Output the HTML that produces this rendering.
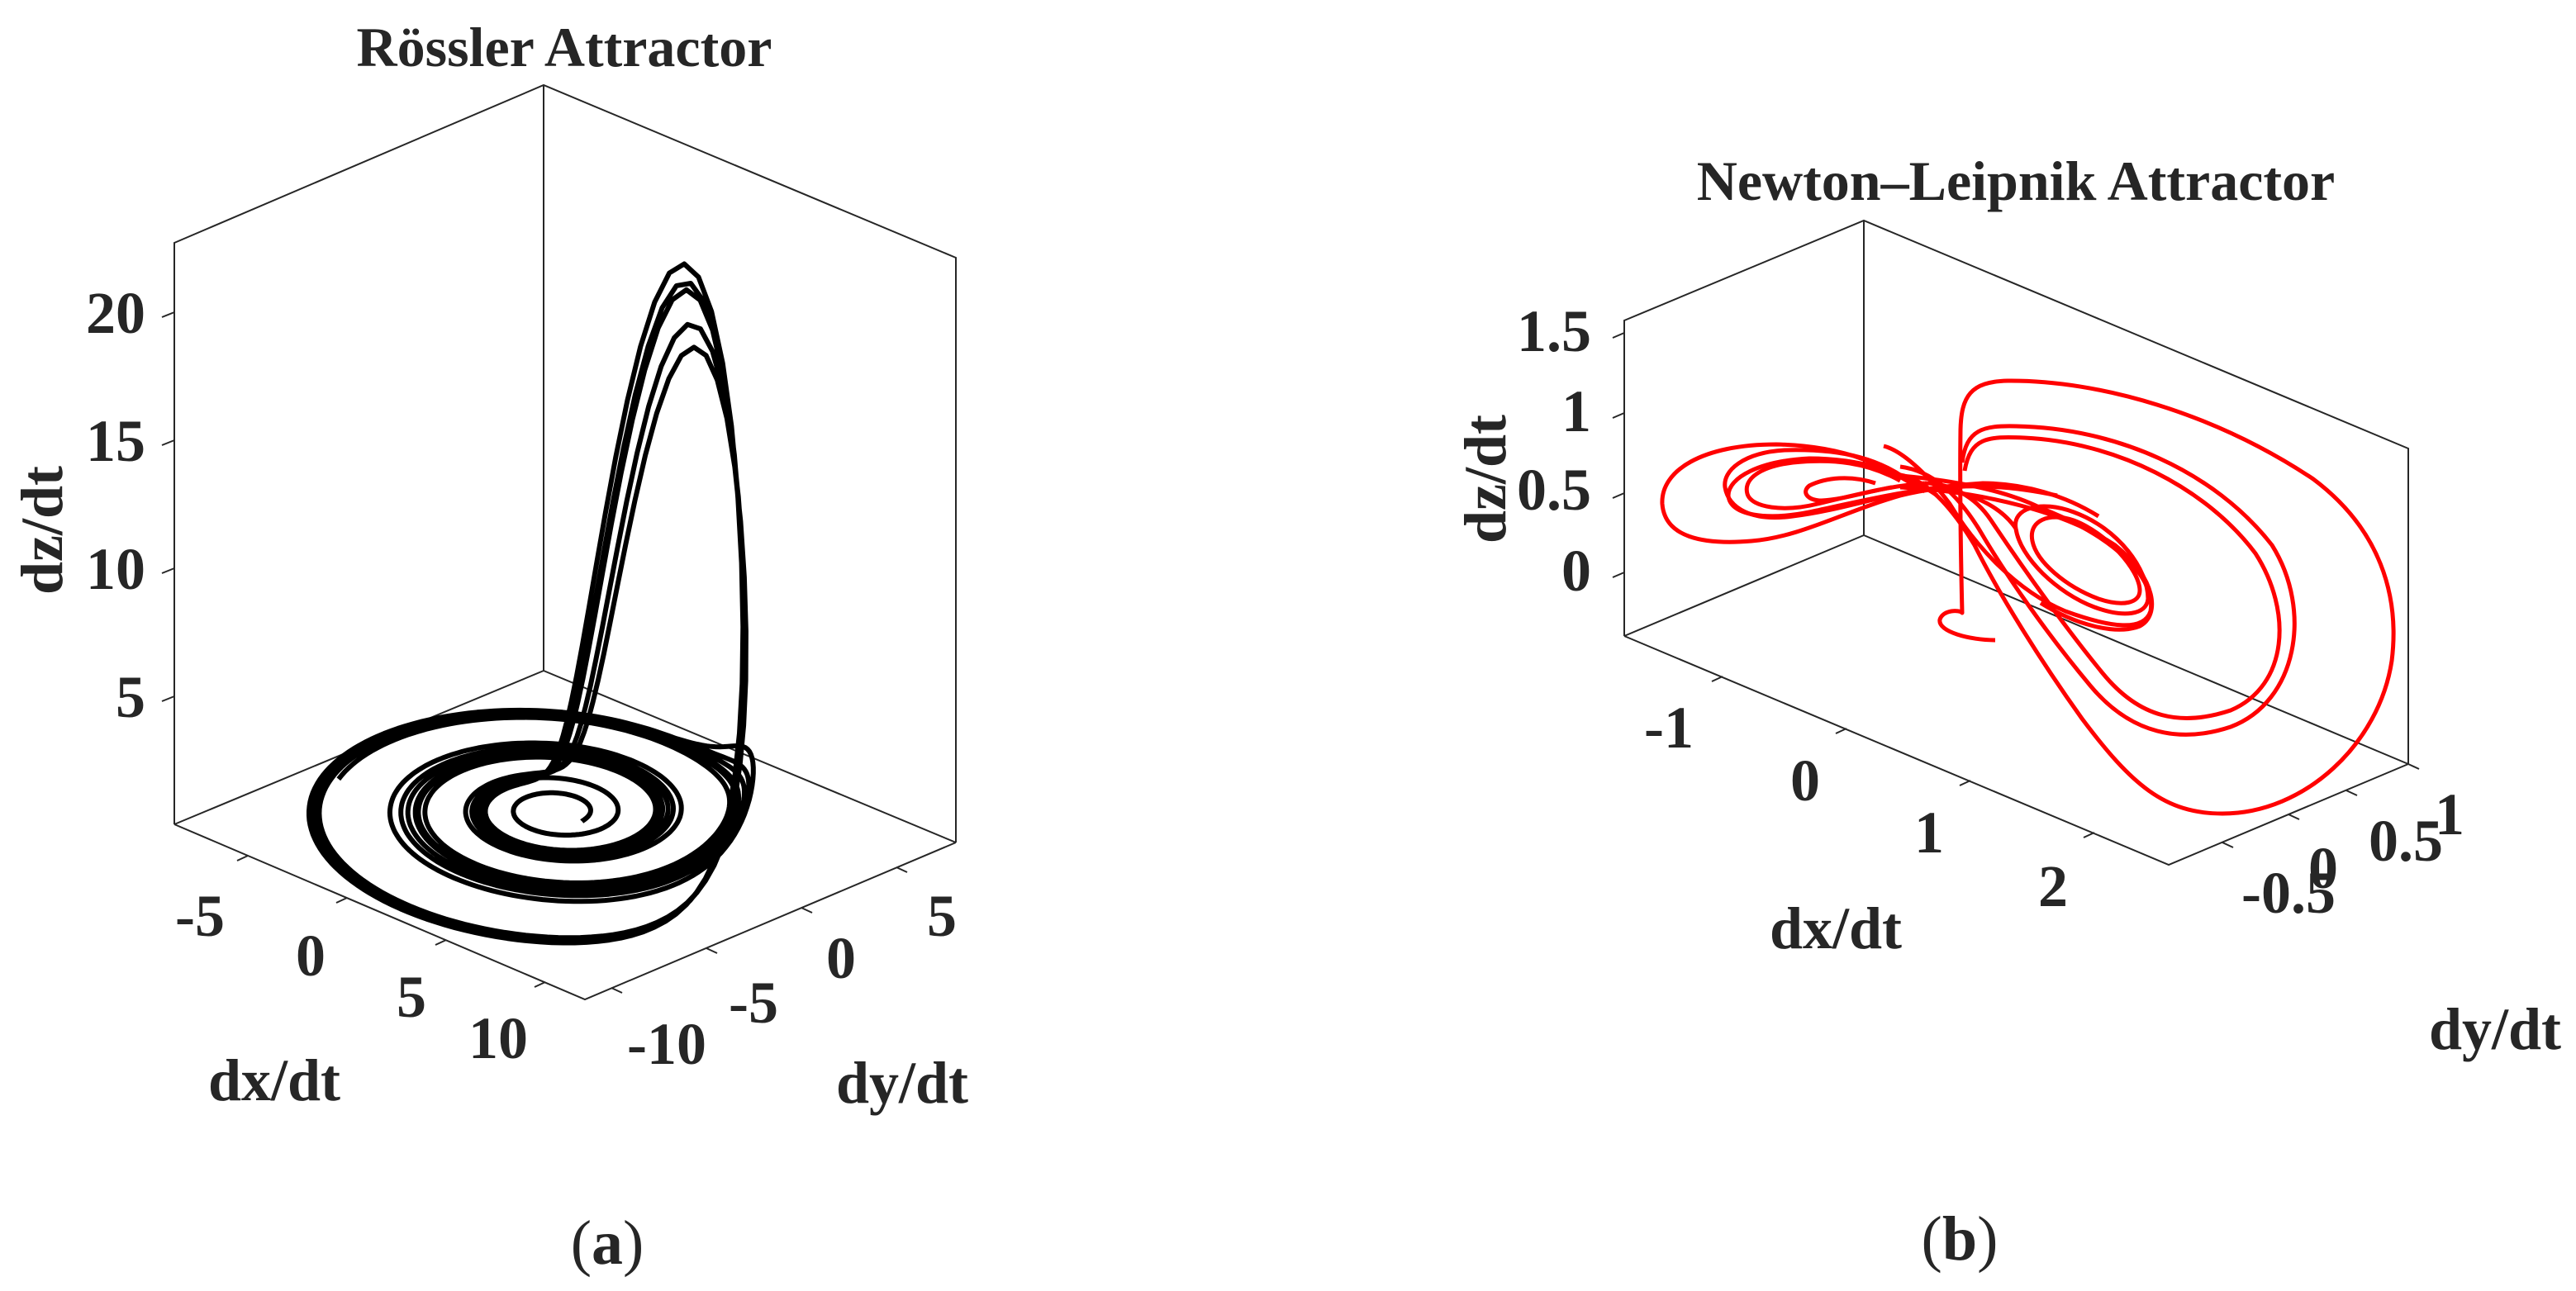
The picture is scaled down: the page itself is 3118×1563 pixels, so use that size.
<!DOCTYPE html>
<html><head><meta charset="utf-8"><style>
html,body{margin:0;padding:0;background:#fff}
svg{display:block}
text{font-family:"Liberation Serif",serif;fill:#262626;font-weight:bold}
</style></head><body>
<svg id="s" width="3118" height="1563" viewBox="0 0 3118 1563" xmlns="http://www.w3.org/2000/svg">
<g stroke="#262626" stroke-width="2" fill="none">
<polyline points="211,998 211,294 658,103 1157,312 1157,1020"/>
<polyline points="658,103 658,812 211,998"/>
<line x1="658" y1="812" x2="1157" y2="1020"/>
<polyline points="211,998 708,1210 1157,1020"/>
<line x1="211" y1="378" x2="196" y2="384"/>
<line x1="211" y1="533" x2="196" y2="539"/>
<line x1="211" y1="688" x2="196" y2="694"/>
<line x1="211" y1="843" x2="196" y2="849"/>
<line x1="300" y1="1036" x2="287" y2="1042"/>
<line x1="420" y1="1087" x2="407" y2="1093"/>
<line x1="540" y1="1138" x2="527" y2="1144"/>
<line x1="660" y1="1189" x2="647" y2="1195"/>
<line x1="740" y1="1196" x2="753" y2="1202"/>
<line x1="855" y1="1148" x2="868" y2="1154"/>
<line x1="970" y1="1099" x2="983" y2="1105"/>
<line x1="1085" y1="1050" x2="1098" y2="1056"/>
<polyline points="1966,770 1966,388 2256,267 2915,543 2915,925"/>
<polyline points="2256,267 2256,648 1966,770"/>
<line x1="2256" y1="648" x2="2915" y2="925"/>
<polyline points="1966,770 2625,1047 2915,925"/>
<line x1="1966" y1="403" x2="1952" y2="409"/>
<line x1="1966" y1="500" x2="1952" y2="506"/>
<line x1="1966" y1="597" x2="1952" y2="603"/>
<line x1="1966" y1="693" x2="1952" y2="699"/>
<line x1="2085" y1="819" x2="2072" y2="825"/>
<line x1="2235" y1="882" x2="2222" y2="888"/>
<line x1="2385" y1="945" x2="2372" y2="951"/>
<line x1="2535" y1="1008" x2="2522" y2="1014"/>
<line x1="2690" y1="1020" x2="2703" y2="1026"/>
<line x1="2770" y1="986" x2="2783" y2="992"/>
<line x1="2840" y1="957" x2="2853" y2="963"/>
<line x1="2915" y1="925" x2="2928" y2="931"/>
</g>
<path id="ros" fill="none" stroke="#000" stroke-width="6" stroke-linejoin="round"/>
<g fill="none" stroke="#f00" stroke-width="5" stroke-linejoin="round">
<path d="M2415,775 C2385,775 2345,765 2348,750 C2352,738 2372,738 2375,742 C2374,700 2372,600 2373,520 C2374,480 2385,462 2430,461 C2540,460 2680,500 2800,580 C2880,640 2905,720 2895,800 C2880,900 2790,985 2690,985 C2620,985 2580,950 2520,870 C2470,800 2420,720 2390,660 C2360,610 2330,580 2300,575"/>
<path d="M2375,560 C2380,520 2400,515 2440,516 C2560,518 2680,570 2750,660 C2800,740 2780,850 2700,880 C2640,900 2580,890 2530,830 C2480,770 2430,700 2395,640 C2370,600 2340,570 2300,565"/>
<path d="M2378,570 C2385,530 2405,528 2450,530 C2560,535 2670,590 2730,670 C2775,740 2770,830 2700,860 C2640,880 2590,870 2545,815 C2500,760 2450,690 2410,630 C2390,600 2360,585 2330,585"/>
<path d="M2460,655 C2455,630 2480,620 2510,630 C2550,645 2590,690 2590,715 C2590,730 2570,735 2540,725 C2500,710 2465,680 2460,655 Z"/>
<path d="M2440,640 C2435,615 2470,605 2510,620 C2565,640 2600,690 2600,725 C2598,745 2570,748 2535,735 C2490,718 2445,675 2440,640 C2420,610 2380,595 2340,590"/>
<path d="M2290,575 C2350,580 2420,590 2470,615 C2560,650 2610,700 2603,740 C2595,765 2555,760 2500,740 C2440,715 2390,660 2360,610 C2330,570 2300,545 2280,540"/>
<path d="M2300,590 C2400,595 2500,620 2560,660 C2610,700 2615,745 2590,758 C2560,770 2510,755 2470,730"/>
<path d="M2330,595 C2280,565 2240,540 2150,538 C2060,538 2010,570 2012,610 C2015,650 2060,660 2120,655 C2180,650 2230,620 2300,600 C2360,585 2420,585 2490,600"/>
<path d="M2320,590 C2280,555 2230,543 2160,545 C2110,548 2085,570 2088,590 C2092,615 2120,632 2170,625 C2230,618 2290,595 2350,590"/>
<path d="M2300,582 C2260,560 2220,555 2170,560 C2130,565 2110,580 2115,598 C2120,615 2160,620 2200,610 C2250,598 2290,588 2330,585"/>
<path d="M2270,585 C2240,575 2210,578 2190,588 C2180,596 2188,606 2205,606 C2230,605 2260,595 2290,590"/>
<path d="M2345,600 C2300,570 2250,555 2190,555 C2130,558 2092,578 2092,600 C2094,625 2140,630 2190,620 C2260,605 2320,590 2400,585 C2450,585 2500,600 2540,625"/>
</g>
<text x="683" y="80" font-size="68" text-anchor="middle">Rössler Attractor</text>
<g font-size="72" text-anchor="end">
<text x="176" y="403">20</text>
<text x="176" y="558">15</text>
<text x="176" y="713">10</text>
<text x="176" y="868">5</text>
</g>
<text transform="translate(75,642) rotate(-90)" font-size="72" text-anchor="middle">dz/dt</text>
<g font-size="72" text-anchor="middle">
<text x="242" y="1133">-5</text>
<text x="376" y="1181">0</text>
<text x="498" y="1231">5</text>
<text x="603" y="1281">10</text>
<text x="332" y="1332">dx/dt</text>
<text x="807" y="1288">-10</text>
<text x="912" y="1238">-5</text>
<text x="1018" y="1184">0</text>
<text x="1140" y="1133">5</text>
<text x="1092" y="1335">dy/dt</text>
</g>
<text x="735" y="1530" font-size="76" text-anchor="middle" style="font-weight:normal">(<tspan style="font-weight:bold">a</tspan>)</text>
<text x="2440" y="242" font-size="68" text-anchor="middle">Newton–Leipnik Attractor</text>
<g font-size="72" text-anchor="end">
<text x="1926" y="425">1.5</text>
<text x="1926" y="522">1</text>
<text x="1926" y="617">0.5</text>
<text x="1926" y="715">0</text>
</g>
<text transform="translate(1822,580) rotate(-90)" font-size="72" text-anchor="middle">dz/dt</text>
<g font-size="72" text-anchor="middle">
<text x="2020" y="905">-1</text>
<text x="2185" y="969">0</text>
<text x="2335" y="1032">1</text>
<text x="2485" y="1097">2</text>
<text x="2222" y="1148">dx/dt</text>
<text x="2770" y="1105">-0.5</text>
<text x="2812" y="1075">0</text>
<text x="2912" y="1042">0.5</text>
<text x="2965" y="1010">1</text>
<text x="3020" y="1270">dy/dt</text>
</g>
<text x="2372" y="1525" font-size="76" text-anchor="middle" style="font-weight:normal">(<tspan style="font-weight:bold">b</tspan>)</text>
</svg>
<script>
(function(){
var a=0.2,b=0.2,c=5.7,x=1.2,y=0,z=0,dt=0.01;
function f(x,y,z){return[-y-z,x+a*y,b+z*(x-c)];}
var xmin=-9,xr=21,ymin=-11.5,yr=20.5;
function P(x,y,z){var fx=(x-xmin)/xr,fy=(y-ymin)/yr;
return [(211+fx*497+fy*449).toFixed(1),(998+fx*212-fy*190-z*31).toFixed(1)];}
var d="M"+P(x,y,z).join(",");
for(var i=0;i<11000;i++){
var k1=f(x,y,z),k2=f(x+dt/2*k1[0],y+dt/2*k1[1],z+dt/2*k1[2]),
k3=f(x+dt/2*k2[0],y+dt/2*k2[1],z+dt/2*k2[2]),k4=f(x+dt*k3[0],y+dt*k3[1],z+dt*k3[2]);
x+=dt/6*(k1[0]+2*k2[0]+2*k3[0]+k4[0]);y+=dt/6*(k1[1]+2*k2[1]+2*k3[1]+k4[1]);z+=dt/6*(k1[2]+2*k2[2]+2*k3[2]+k4[2]);
if(i%4==0)d+="L"+P(x,y,z).join(",");}
document.getElementById("ros").setAttribute("d",d);
})();
</script>
</body></html>
